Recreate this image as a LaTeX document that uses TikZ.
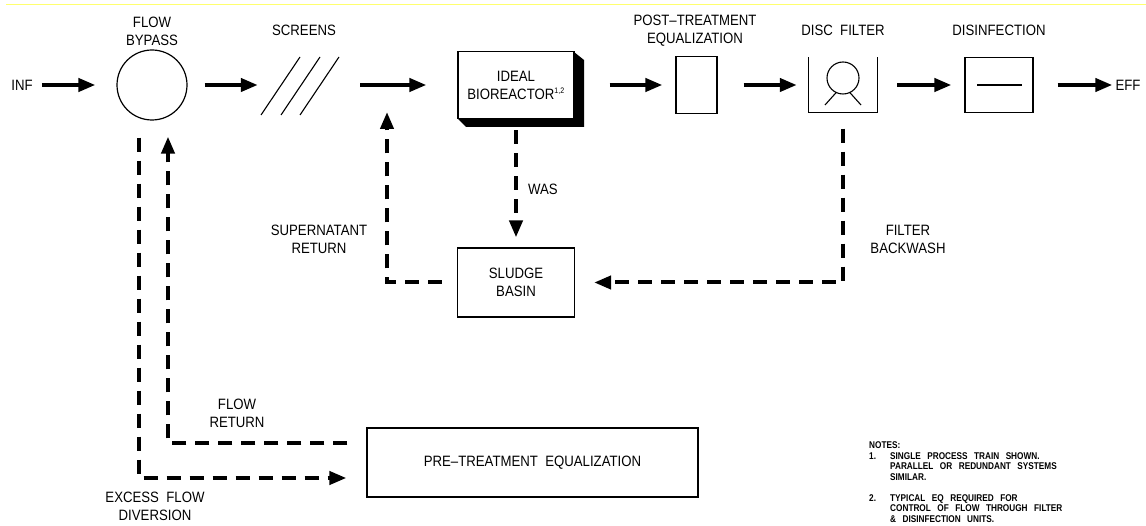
\documentclass[tikz,border=0pt]{standalone}
\usepackage{fontspec}
\setmainfont{Liberation Sans}[FakeStretch=0.88]
\newfontfamily\notefont{Liberation Sans}[FakeStretch=0.84]
\newcommand\notespacing{\spaceskip 6.5pt plus 1pt\relax}
\usetikzlibrary{arrows.meta,calc}
\definecolor{topline}{RGB}{255,255,110}
\tikzset{
  lbl/.style={font=\fontsize{15}{18}\selectfont, align=center, inner sep=0pt},
  unit/.style={draw, line width=1.2pt, inner sep=0pt, font=\fontsize{15}{18}\selectfont, align=center},
  ghost/.style={inner sep=0pt},
  tipx/.style={-{Triangle[length=17pt,width=13pt]}},
  flow/.style={line width=4pt, tipx},
  dashflow/.style={line width=4pt, dash pattern=on 14pt off 9pt, line join=miter},
  thin/.style={line width=1.1pt},
}
\begin{document}
\begin{tikzpicture}[x=1pt,y=-1pt]
\useasboundingbox (0,0) rectangle (1146,526);
\draw[topline, line width=1pt] (6,5) -- (1146,5);

% ---- top row units ----
\node[lbl] (inf) at (22,85) {INF};
\node[circle, draw, line width=1.2pt, minimum size=70pt, inner sep=0pt] (bypass) at (152,85) {};
\node[lbl] (bypasslbl) at (152,31) {FLOW\\BYPASS};

\node[ghost, minimum width=78pt, minimum height=58pt] (screens) at (300,85) {};
\draw[thin] (261,115) -- (300,57);
\draw[thin] (281,115) -- (320,57);
\draw[thin] (300,115) -- (339,57);
\node[lbl] (screenslbl) at (304,30) {SCREENS};

\fill (574,52) -- (584,60) -- (584,127) -- (466,127) -- (458,119) -- cycle;
\node[unit, fill=white, minimum width=116pt, minimum height=67pt] (bio) at (516,85)
  {IDEAL\\BIOREACTOR\textsuperscript{\fontsize{8}{8}\selectfont 1,2}};

\node[unit, minimum width=41pt, minimum height=57pt] (post) at (696.5,85) {};
\node[lbl] (postlbl) at (695,31) {POST–TREATMENT\\EQUALIZATION};

\node[ghost, minimum width=68pt, minimum height=55pt] (disc) at (843,85) {};
\draw[line width=1.2pt] (disc.north west) -- (disc.south west) -- (disc.south east) -- (disc.north east);
\draw[thin] (843,78) circle (16);
\draw[thin] (836.2,92.5) -- (825,105);
\draw[thin] (849.8,92.5) -- (861,105);
\node[lbl] (disclbl) at (843,30) {DISC\ \ FILTER};

\node[unit, minimum width=68pt, minimum height=55pt] (dis) at (999,85) {};
\draw[thin] ($(dis.center)+(-22,0)$) -- ($(dis.center)+(23,0)$);
\node[lbl] (dislbl) at (999,30) {DISINFECTION};

\node[lbl] (eff) at (1128,85) {EFF};

% ---- lower units ----
\node[unit, minimum width=117pt, minimum height=69pt] (sludge) at (516,282.5) {SLUDGE\\BASIN};
\node[unit, minimum width=331pt, minimum height=69pt] (pre) at (532.5,462.5) {PRE–TREATMENT\ \ EQUALIZATION};
\coordinate (mix) at (387,85);

% ---- main flow ----
\draw[flow, shorten <=9pt, shorten >=21pt] (inf) -- (bypass);
\draw[flow, shorten <=17pt, shorten >=3pt] (bypass) -- (screens);
\draw[flow, shorten <=21pt, shorten >=31pt] (screens) -- (bio);
\draw[flow, shorten <=35pt, shorten >=13pt] (bio) -- (post);
\draw[flow, shorten <=26pt, shorten >=12pt] (post) -- (disc);
\draw[flow, shorten <=20pt, shorten >=13pt] (disc) -- (dis);
\draw[flow, shorten <=24pt, shorten >=3pt] (dis) -- (eff);

% ---- dashed flows ----
\draw[dashflow, tipx, shorten >=20pt] ($(bypass.south)+(-13,17)$) |- ($(pre.west)+(0,15.5)$);
\draw[dashflow, tipx, shorten <=19pt, shorten >=16pt] ($(pre.west)+(0,-19.5)$) -| ($(bypass.south)+(16,0)$);
\draw[dashflow, tipx, shorten <=15pt, shorten >=27pt] (sludge.west) -| (mix);
\draw[dashflow, tipx, shorten <=11pt, shorten >=10pt] (bio.south) -- (sludge.north);
\draw[dashflow, tipx, shorten <=16pt, shorten >=19pt] (disc.south) |- (sludge.east);

% ---- labels ----
\node[lbl] (waslbl) at (543,189) {WAS};
\node[lbl] (superlbl) at (319,239) {SUPERNATANT\\RETURN};
\node[lbl] (backlbl) at (908,239) {FILTER\\BACKWASH};
\node[lbl] (retlbl) at (237,413) {FLOW\\RETURN};
\node[lbl] (excesslbl) at (155,506) {EXCESS\ \ FLOW\\DIVERSION};

% ---- notes ----
\node[anchor=north west, inner sep=0pt, font=\notefont\bfseries\fontsize{9.8}{10.6}\selectfont\notespacing] (notes) at (869,441) {%
\begin{tabular}{@{}p{21pt}@{}l@{}}
\multicolumn{2}{@{}l}{NOTES:}\\
1. & SINGLE PROCESS TRAIN SHOWN.\\
   & PARALLEL OR REDUNDANT SYSTEMS\\
   & SIMILAR.\\[10pt]
2. & TYPICAL EQ REQUIRED FOR\\
   & CONTROL OF FLOW THROUGH FILTER\\
   & \& DISINFECTION UNITS.
\end{tabular}};
\end{tikzpicture}
\end{document}
